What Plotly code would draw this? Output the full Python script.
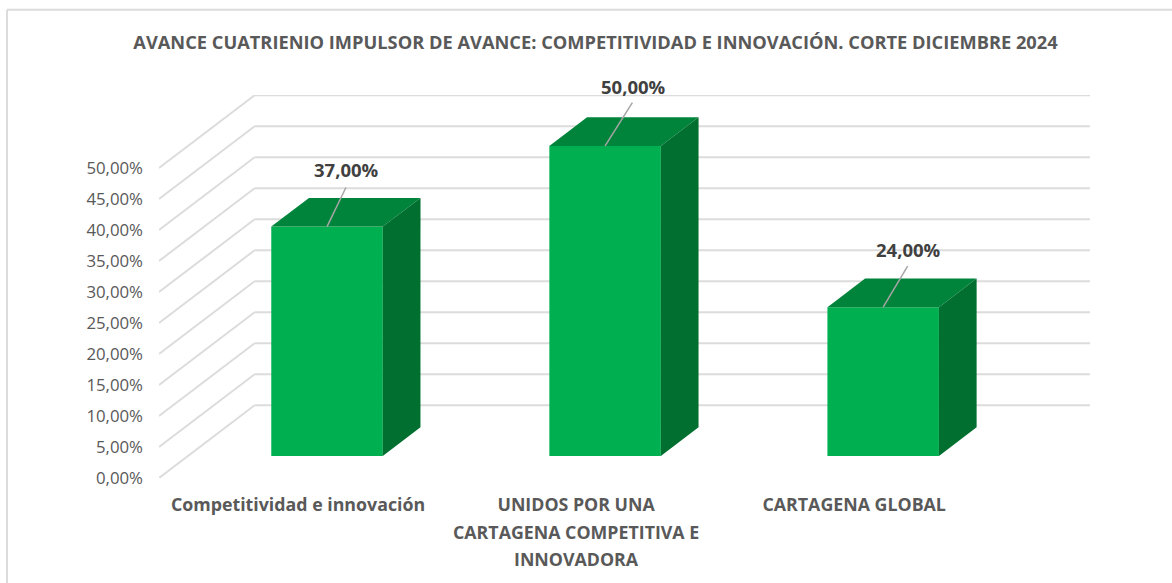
import plotly.graph_objects as go

# --- data
categories = ["Competitividad e innovación", "UNIDOS POR UNA", "CARTAGENA GLOBAL"]
wrapped_lines = {1: ["CARTAGENA COMPETITIVA E", "INNOVADORA"]}
values = [37.0, 50.0, 24.0]
value_labels = ["37,00%", "50,00%", "24,00%"]
y_ticks = [0, 5, 10, 15, 20, 25, 30, 35, 40, 45, 50]
y_tick_labels = ["0,00%", "5,00%", "10,00%", "15,00%", "20,00%", "25,00%",
                 "30,00%", "35,00%", "40,00%", "45,00%", "50,00%"]
title = "AVANCE CUATRIENIO IMPULSOR DE AVANCE: COMPETITIVIDAD E INNOVACIÓN. CORTE DICIEMBRE 2024"

# --- 3D projection style (axis units per unit of depth)
DEPTH_X, DEPTH_Y = 0.344, 11.73
BAR_D0, BAR_D1 = 0.303, 0.697
HALF = 0.2005
FONT = "Open Sans"
GRID = "#dcdcdc"
TXT = "#595959"
LBL_DX = [0.068, 0.098, 0.088]      # leader-line end, x offset
LBL_LINE = [6.3, 7.0, 6.6]          # leader-line end, y offset
LBL_SHIFT = [18, 16, 17]            # label centre above leader end


def proj(x, v, d):
    return x + d * DEPTH_X, v + d * DEPTH_Y


XMIN, XMAX = -0.5, 2.848
YMAX = 61.77
L, R, T, B = 159, 82, 94.7, 105.3
W, H = 1172, 583
PW, PH = W - L - R, H - T - B

shapes = []
# walls gridlines
for v in y_ticks:
    x0, y0 = proj(XMIN, v, 0)
    x1, y1 = proj(XMIN, v, 1)
    shapes.append(dict(type="line", layer="below", xref="x", yref="y", x0=x0, y0=y0, x1=x1, y1=y1,
                       line=dict(color=GRID, width=2)))
    shapes.append(dict(type="line", layer="below", xref="x", yref="y", x0=x1, y0=y1, x1=XMAX, y1=y1,
                       line=dict(color=GRID, width=2)))
# chart frame
px = lambda p: (p - L) / PW
py = lambda p: 1 - (p - T) / PH
for a, b, c, d in [(7, 9.5, 7, 583), (7, 9.5, 1172, 9.5)]:
    shapes.append(dict(type="line", xref="paper", yref="paper", x0=px(a), y0=py(b), x1=px(c), y1=py(d),
                       line=dict(color=GRID, width=2)))

fig = go.Figure()
cats_idx = list(range(len(categories)))

# front faces
fig.add_trace(go.Bar(
    x=[proj(i, 0, BAR_D0)[0] for i in cats_idx],
    y=values,
    base=[BAR_D0 * DEPTH_Y] * len(values),
    width=2 * HALF,
    marker=dict(color="#00B050", line=dict(width=0)),
    hoverinfo="skip",
))

for i, v in zip(cats_idx, values):
    # top face
    corners = [proj(i - HALF, v, BAR_D0), proj(i - HALF, v, BAR_D1),
               proj(i + HALF, v, BAR_D1), proj(i + HALF, v, BAR_D0)]
    fig.add_trace(go.Scatter(x=[c[0] for c in corners], y=[c[1] for c in corners], mode="lines",
                             fill="toself", fillcolor="#00843B", line=dict(width=0, color="#00843B"),
                             hoverinfo="skip"))
    # side face
    corners = [proj(i + HALF, 0, BAR_D0), proj(i + HALF, 0, BAR_D1),
               proj(i + HALF, v, BAR_D1), proj(i + HALF, v, BAR_D0)]
    fig.add_trace(go.Scatter(x=[c[0] for c in corners], y=[c[1] for c in corners], mode="lines",
                             fill="toself", fillcolor="#006F2F", line=dict(width=0, color="#006F2F"),
                             hoverinfo="skip"))

annotations = []
for i, v, lab in zip(cats_idx, values, value_labels):
    x0, y0 = proj(i, v, BAR_D0)
    fig.add_trace(go.Scatter(x=[x0, x0 + LBL_DX[i]], y=[y0, y0 + LBL_LINE[i]], mode="lines",
                             line=dict(color="#a6a6a6", width=1.5), hoverinfo="skip"))
    annotations.append(dict(x=x0 + LBL_DX[i], y=y0 + LBL_LINE[i], xref="x", yref="y",
                            yshift=LBL_SHIFT[i], xshift=1,
                            text=f"<b>{lab}</b>", showarrow=False,
                            font=dict(family=FONT, size=18.5, color="#404040")))

for i, lines in wrapped_lines.items():
    for n, line in enumerate(lines):
        annotations.append(dict(x=i, y=0, xref="x", yref="y", yanchor="middle", yshift=-54 - 27 * n,
                                text=f"<b>{line}</b>", showarrow=False,
                                font=dict(family=FONT, size=17.8, color=TXT)))

fig.update_layout(
    width=W, height=H, autosize=False, showlegend=False,
    margin=dict(l=L, r=R, t=T, b=B, pad=0, autoexpand=False),
    paper_bgcolor="white", plot_bgcolor="white",
    title=dict(text=f"<b>{title}</b>", x=595.5 / W, xanchor="center", y=1 - 43 / H, yanchor="middle",
               font=dict(family=FONT, size=18.25, color=TXT)),
    shapes=shapes, annotations=annotations,
    xaxis=dict(range=[XMIN, XMAX], tickmode="array", tickvals=cats_idx,
               ticktext=[f"<b>{c}</b>" for c in categories], showgrid=False, zeroline=False, showline=False,
               ticks="", ticklabelstandoff=14, tickangle=0, tickfont=dict(family=FONT, size=17.8, color=TXT)),
    yaxis=dict(range=[0, YMAX], tickmode="array", tickvals=y_ticks, ticktext=y_tick_labels,
               showgrid=False, zeroline=False, showline=False, ticks="", ticklabelstandoff=15,
               tickfont=dict(family=FONT, size=16.8, color=TXT)),
)

fig.write_html("out.html", post_script="document.body.style.margin='0';", config={"displayModeBar": False})
